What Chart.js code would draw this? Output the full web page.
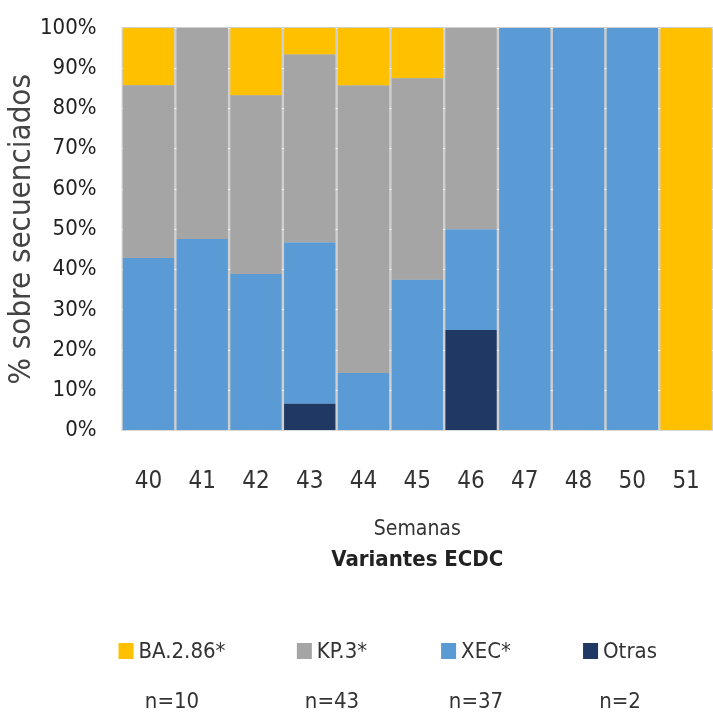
<!DOCTYPE html>
<html>
<head>
<meta charset="utf-8">
<script src="https://cdn.jsdelivr.net/npm/chart.js@4/dist/chart.umd.min.js"></script>
<style>
  html, body { margin: 0; padding: 0; background: #fff; overflow: hidden; }
  #wrap { position: relative; width: 713px; height: 721px; }
  canvas { display: block; }
  #legend { position: absolute; left: 0; top: 632px; width: 713px; height: 89px;
    font-family: 'DejaVu Sans Condensed', 'DejaVu Sans', sans-serif; color: #333; }
  .item { position: absolute; top: 0; transform: translateX(-50%); text-align: center; white-space: nowrap; }
  .item .lab { font-size: 22px; line-height: 38px; }
  .item .box { display: inline-block; width: 15px; height: 16px; margin-right: 5px; vertical-align: -1px; }
  .item .n { font-size: 22px; line-height: 38px; margin-top: 12px; }
</style>
</head>
<body>
<div id="wrap">
  <canvas id="chart" width="713" height="721"></canvas>
  <div id="legend"></div>
</div>
<script>
const weeks = ["40", "41", "42", "43", "44", "45", "46", "47", "48", "50", "51"];

// % of sequenced samples per week
const otras = [0, 0, 0, 6.7, 0, 0, 25, 0, 0, 0, 0];
const xec = [42.9, 47.6, 38.9, 40, 14.3, 37.5, 25, 100, 100, 100, 0];
const kp3 = [42.9, 52.4, 44.4, 46.7, 71.4, 50, 50, 0, 0, 0, 0];
const ba286 = [14.2, 0, 16.7, 6.6, 14.3, 12.5, 0, 0, 0, 0, 100];

const legendNames = ["BA.2.86*", "KP.3*", "XEC*", "Otras"];
const legendCounts = ["n=10", "n=43", "n=37", "n=2"];
const legendColors = ["#FFC000", "#A5A5A5", "#5B9BD5", "#203864"];
const legendCenters = [172, 332, 476, 620];

const fontFam = "'DejaVu Sans Condensed', 'DejaVu Sans', sans-serif";

// light grey shows through the thin gaps between the bars
const areaBg = {
  id: "areaBg",
  beforeDraw(chart) {
    const a = chart.chartArea;
    const ctx = chart.ctx;
    ctx.save();
    ctx.fillStyle = "#cfcfcf";
    ctx.fillRect(a.left, a.top - 1, a.right - a.left, a.bottom - a.top + 1);
    ctx.restore();
  },
};

const ds = (label, data, color) => ({
  label,
  data,
  backgroundColor: color,
  borderWidth: 0,
  barPercentage: 1,
  categoryPercentage: 0.955,
});

new Chart(document.getElementById("chart"), {
  type: "bar",
  data: {
    labels: weeks,
    datasets: [
      ds("Otras", otras, "#203864"),
      ds("XEC*", xec, "#5B9BD5"),
      ds("KP.3*", kp3, "#A5A5A5"),
      ds("BA.2.86*", ba286, "#FFC000"),
    ],
  },
  options: {
    responsive: false,
    animation: false,
    layout: { padding: { left: 6, top: 28, right: 0, bottom: 148 } },
    plugins: {
      legend: { display: false },
      tooltip: { enabled: false },
      title: {
        display: true,
        position: "bottom",
        fullSize: false,
        text: "Variantes ECDC",
        color: "#222",
        font: { family: fontFam, size: 22, weight: "bold" },
        padding: { top: 4, bottom: 0 },
      },
    },
    scales: {
      x: {
        stacked: true,
        grid: { display: true, drawOnChartArea: false, drawTicks: true, tickLength: 34, tickColor: "rgba(0,0,0,0)" },
        border: { display: true, color: "#d9d9d9" },
        ticks: { color: "#333", font: { family: fontFam, size: 24 }, padding: 3 },
        title: {
          display: true,
          text: "Semanas",
          color: "#333",
          font: { family: fontFam, size: 21 },
          padding: { top: 18, bottom: 0 },
        },
      },
      y: {
        stacked: true,
        min: 0,
        max: 100,
        ticks: {
          stepSize: 10,
          color: "#222",
          padding: 3,
          font: { family: fontFam, size: 22, lineHeight: 0.2 },
          callback: (v) => v + "%",
        },
        grid: { color: "#f2f2f2", drawTicks: true, tickLength: 22, tickColor: "rgba(0,0,0,0)" },
        border: { display: false },
        title: {
          display: true,
          text: "% sobre secuenciados",
          color: "#444",
          font: { family: fontFam, size: 31, lineHeight: 1 },
          padding: { top: 0, bottom: 0 },
        },
      },
    },
  },
  plugins: [areaBg],
});

const legend = document.getElementById("legend");
legendNames.forEach((name, i) => {
  const el = document.createElement("div");
  el.className = "item";
  el.style.left = legendCenters[i] + "px";
  el.innerHTML =
    '<div class="lab"><span class="box" style="background:' + legendColors[i] + '"></span>' + name + "</div>" +
    '<div class="n">' + legendCounts[i] + "</div>";
  legend.appendChild(el);
});
</script>
</body>
</html>
